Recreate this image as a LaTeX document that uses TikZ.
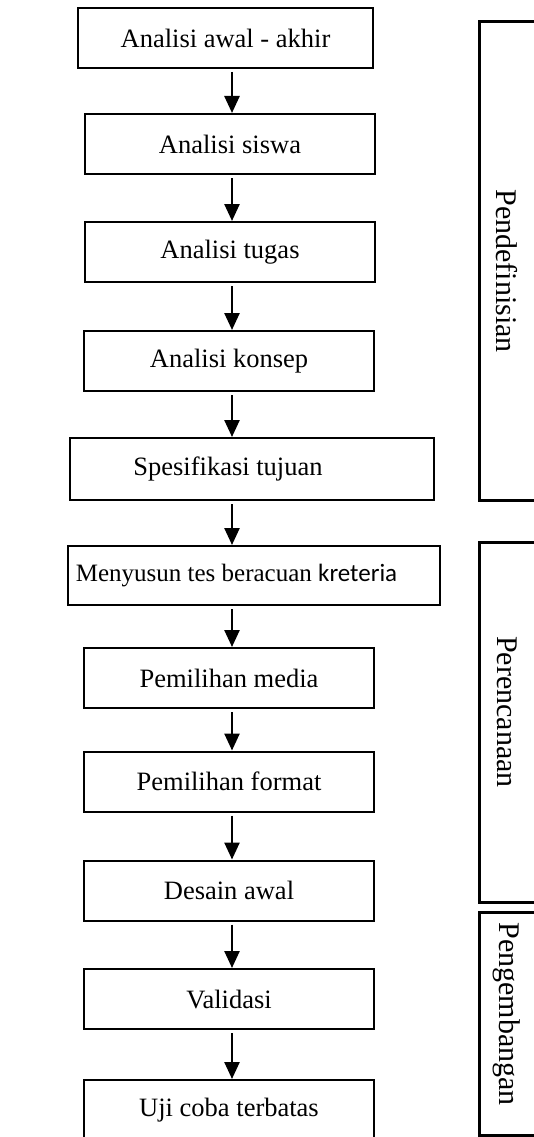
\documentclass[tikz,border=0pt]{standalone}
\usepackage{fontspec}
\setmainfont{Liberation Serif}
\newfontfamily\carlito{Carlito}
\usetikzlibrary{arrows.meta}

\tikzset{
	stepbox/.style={draw, line width=2pt, inner sep=0pt, minimum width=290pt, minimum height=60pt, font=\fontsize{26.5}{30}\selectfont},
	steptext/.style={inner sep=0pt, font=\fontsize{26.5}{30}\selectfont},
	phasebox/.style={line width=3pt},
	phaselabel/.style={rotate=-90, inner sep=0pt, font=\fontsize{30}{34}\selectfont},
	flow/.style={line width=2.5pt, -{Triangle[length=17pt,width=15pt]}, shorten <=3pt}
}

\begin{document}
\begin{tikzpicture}[x=1pt,y=-1pt]
			%%%%% START %%%%%
			\useasboundingbox (0,0) rectangle (533,1137);
			
			\node[stepbox, minimum width=295pt] (awal) at (225.5,38) {Analisi awal - akhir};
			\node[stepbox] (siswa) at (230,144) {Analisi siswa};
			\node[stepbox] (tugas) at (230,252) {Analisi tugas};
			\node[stepbox] (konsep) at (229,361) {Analisi konsep};
			\node[stepbox, minimum width=364pt, minimum height=62pt,
				label={[steptext, xshift=-24pt]center:Spesifikasi tujuan}] (tujuan) at (252,469) {};
			\node[stepbox, minimum width=372pt, minimum height=59pt,
				label={[steptext, font=\fontsize{25}{28}\selectfont, xshift=-17.5pt]center:Menyusun tes beracuan {\carlito kreteria}}] (tes) at (254,575.5) {};
			\node[stepbox] (media) at (229,678) {Pemilihan media};
			\node[stepbox] (format) at (229,781.5) {Pemilihan format};
			\node[stepbox] (desain) at (229,890.5) {Desain awal};
			\node[stepbox] (validasi) at (229,999) {Validasi};
			\node[stepbox] (ujicoba) at (229,1110) {Uji coba terbatas};
			
			\coordinate (axis) at (232,0);
			\draw[flow] (awal.south -| axis) -- (siswa.north -| axis);
			\draw[flow] (siswa.south -| axis) -- (tugas.north -| axis);
			\draw[flow] (tugas.south -| axis) -- (konsep.north -| axis);
			\draw[flow] (konsep.south -| axis) -- (tujuan.north -| axis);
			\draw[flow] (tujuan.south -| axis) -- (tes.north -| axis);
			\draw[flow] (tes.south -| axis) -- (media.north -| axis);
			\draw[flow] (media.south -| axis) -- (format.north -| axis);
			\draw[flow] (format.south -| axis) -- (desain.north -| axis);
			\draw[flow] (desain.south -| axis) -- (validasi.north -| axis);
			\draw[flow] (validasi.south -| axis) -- (ujicoba.north -| axis);
			
			%%%%% PHASES %%%%%
			\draw[phasebox] (479,22) rectangle (545,500);
			\node[phaselabel] (define) at (507,271) {Pendefinisian};
			
			\draw[phasebox] (479,542) rectangle (545,902);
			\node[phaselabel] (plan) at (507,712) {Perencanaan};
			
			\draw[phasebox] (479,912) rectangle (545,1135);
			\node[phaselabel] (develop) at (507,1014) {Pengembangan};
			
			%%%%% END %%%%%
\end{tikzpicture}
\end{document}
